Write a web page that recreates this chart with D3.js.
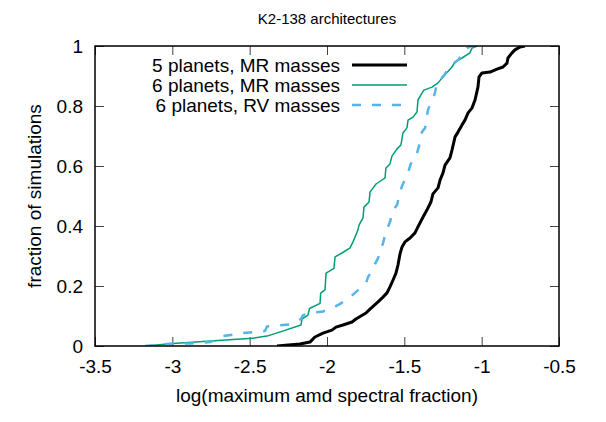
<!DOCTYPE html>
<html>
<head>
<meta charset="utf-8">
<script src="https://cdn.jsdelivr.net/npm/d3@7"></script>
<style>
  html, body { margin: 0; padding: 0; background: #fff; }
  svg { display: block; }
  text { font-family: "Liberation Sans", Arial, Helvetica, sans-serif; fill: #000; }
</style>
</head>
<body>
<svg id="chart" width="606" height="422"></svg>
<script>
// ---- data ----
const title = "K2-138 architectures";
const xLabel = "log(maximum amd spectral fraction)";
const yLabel = "fraction of simulations";
const xTicks = [-3.5, -3, -2.5, -2, -1.5, -1, -0.5];
const yTicks = [0, 0.2, 0.4, 0.6, 0.8, 1];
const seriesNames = ["5 planets, MR masses", "6 planets, MR masses", "6 planets, RV masses"];

// 5 planets, MR masses : [log fraction, cumulative fraction]
const fiveMR = [
  [-2.323,0],[-2.175,0.007],[-2.110,0.013],[-2.078,0.03],[-2.026,0.043],[-1.968,0.053],
  [-1.942,0.063],[-1.897,0.07],[-1.838,0.08],[-1.813,0.09],[-1.748,0.11],[-1.722,0.123],
  [-1.670,0.147],[-1.638,0.163],[-1.612,0.177],[-1.593,0.197],[-1.573,0.22],[-1.554,0.243],
  [-1.541,0.27],[-1.528,0.307],[-1.515,0.33],[-1.496,0.347],[-1.463,0.36],[-1.431,0.377],
  [-1.412,0.397],[-1.379,0.43],[-1.354,0.453],[-1.328,0.48],[-1.315,0.507],[-1.282,0.527],
  [-1.269,0.553],[-1.250,0.577],[-1.237,0.603],[-1.205,0.627],[-1.192,0.653],[-1.172,0.697],
  [-1.153,0.713],[-1.127,0.737],[-1.108,0.753],[-1.088,0.777],[-1.063,0.793],[-1.043,0.82],
  [-1.024,0.863],[-1.017,0.897],[-0.998,0.91],[-0.946,0.913],[-0.901,0.923],[-0.862,0.93],
  [-0.836,0.943],[-0.830,0.96],[-0.804,0.977],[-0.785,0.987],[-0.752,0.997],[-0.720,1.0]
];

// 6 planets, MR masses
const sixMR = [
  [-3.177,0],[-2.996,0.008],[-2.485,0.026],[-2.388,0.033],[-2.297,0.048],[-2.168,0.07],
  [-2.162,0.09],[-2.123,0.103],[-2.113,0.125],[-2.045,0.142],[-2.041,0.176],[-2.013,0.187],
  [-2.006,0.243],[-1.955,0.259],[-1.948,0.297],[-1.903,0.31],[-1.851,0.327],[-1.832,0.347],
  [-1.819,0.363],[-1.800,0.387],[-1.793,0.403],[-1.767,0.427],[-1.761,0.463],[-1.728,0.48],
  [-1.722,0.513],[-1.683,0.54],[-1.625,0.56],[-1.619,0.593],[-1.593,0.607],[-1.580,0.633],
  [-1.547,0.657],[-1.522,0.67],[-1.509,0.71],[-1.483,0.727],[-1.476,0.753],[-1.444,0.763],
  [-1.418,0.78],[-1.412,0.82],[-1.386,0.843],[-1.373,0.853],[-1.321,0.863],[-1.282,0.877],
  [-1.257,0.893],[-1.244,0.9],[-1.192,0.93],[-1.172,0.947],[-1.127,0.96],[-1.076,0.977],
  [-1.063,0.993],[-1.037,0.998],[-1.030,1.0]
];

// 6 planets, RV masses
const sixRV = [
  [-3.177,0],[-2.996,0.008],[-2.886,0.008],[-2.756,0.013],[-2.672,0.033],[-2.543,0.043],
  [-2.401,0.05],[-2.388,0.065],[-2.285,0.07],[-2.239,0.072],[-2.168,0.09],[-2.155,0.103],
  [-2.110,0.11],[-2.026,0.115],[-1.961,0.127],[-1.910,0.142],[-1.851,0.163],[-1.806,0.183],
  [-1.748,0.208],[-1.735,0.23],[-1.709,0.25],[-1.690,0.273],[-1.670,0.293],[-1.651,0.32],
  [-1.638,0.343],[-1.619,0.38],[-1.606,0.397],[-1.593,0.413],[-1.573,0.453],[-1.547,0.47],
  [-1.528,0.513],[-1.515,0.533],[-1.476,0.577],[-1.463,0.6],[-1.444,0.627],[-1.418,0.643],
  [-1.405,0.667],[-1.399,0.687],[-1.386,0.713],[-1.366,0.727],[-1.354,0.767],[-1.347,0.787],
  [-1.321,0.82],[-1.302,0.843],[-1.289,0.88],[-1.263,0.89],[-1.237,0.907],[-1.218,0.923],
  [-1.185,0.94],[-1.153,0.953],[-1.127,0.97],[-1.095,0.993],[-1.076,0.998],[-1.056,1.0]
];

// ---- layout ----
const W = 606, H = 422;
const m = { left: 95, right: 47, top: 46, bottom: 76 };
const svg = d3.select("#chart");
const pw = W - m.left - m.right, ph = H - m.top - m.bottom;

const x = d3.scaleLinear().domain([-3.5, -0.5]).range([m.left, m.left + pw]);
const y = d3.scaleLinear().domain([0, 1]).range([m.top + ph, m.top]);

svg.append("defs").append("clipPath").attr("id", "clip")
  .append("rect").attr("x", m.left).attr("y", m.top).attr("width", pw).attr("height", ph);

const fontSize = 19;
const tickLen = 9;

// ticks (gnuplot style: inward on all four sides, mirrored)
const axB = d3.axisBottom(x).tickValues(xTicks).tickSizeInner(-tickLen).tickSizeOuter(0)
  .tickPadding(14).tickFormat(d => d3.format("")(d).replace("−", "-"));
const axT = d3.axisTop(x).tickValues(xTicks).tickSizeInner(-tickLen).tickSizeOuter(0).tickFormat("");
const axL = d3.axisLeft(y).tickValues(yTicks).tickSizeInner(-tickLen).tickSizeOuter(0)
  .tickPadding(12).tickFormat(d => d3.format("")(d));
const axR = d3.axisRight(y).tickValues(yTicks).tickSizeInner(-tickLen).tickSizeOuter(0).tickFormat("");

function styleAxis(g) {
  g.select(".domain").remove();
  g.selectAll(".tick line").attr("stroke", "#444").attr("stroke-width", 1);
  g.selectAll(".tick text").attr("font-size", fontSize)
    .attr("font-family", '"Liberation Sans", Arial, sans-serif').attr("fill", "#000");
}
svg.append("g").attr("transform", `translate(0,${m.top + ph})`).call(axB).call(styleAxis);
svg.append("g").attr("transform", `translate(0,${m.top})`).call(axT).call(styleAxis);
svg.append("g").attr("transform", `translate(${m.left},0)`).call(axL).call(styleAxis);
svg.append("g").attr("transform", `translate(${m.left + pw},0)`).call(axR).call(styleAxis);

// curves
const line = d3.line().x(d => x(d[0])).y(d => y(d[1]));
const plot = svg.append("g").attr("clip-path", "url(#clip)");
const styles = [
  { data: fiveMR, color: "#000000", width: 3, dash: null },
  { data: sixMR, color: "#009e73", width: 1.5, dash: null },
  { data: sixRV, color: "#56b4e9", width: 2.5, dash: "9,11" }
];
styles.forEach(s => {
  plot.append("path").datum(s.data).attr("d", line)
    .attr("fill", "none").attr("stroke", s.color).attr("stroke-width", s.width)
    .attr("stroke-linejoin", "round")
    .attr("stroke-dasharray", s.dash);
});

// border
svg.append("rect").attr("x", m.left).attr("y", m.top).attr("width", pw).attr("height", ph)
  .attr("fill", "none").attr("stroke", "#000").attr("stroke-width", 1.5);

// legend
const leg = svg.append("g");
seriesNames.forEach((name, i) => {
  const cy = 65 + i * 20;
  leg.append("text").attr("x", 340).attr("y", cy + 6.5).attr("text-anchor", "end")
    .attr("font-size", fontSize).text(name);
  leg.append("line").attr("x1", 352).attr("x2", 407).attr("y1", cy).attr("y2", cy)
    .attr("stroke", styles[i].color).attr("stroke-width", styles[i].width)
    .attr("stroke-dasharray", styles[i].dash);
});

// titles
svg.append("text").attr("x", m.left + pw / 2).attr("y", 24).attr("text-anchor", "middle")
  .attr("font-size", 15).text(title);
svg.append("text").attr("x", m.left + pw / 2).attr("y", 402).attr("text-anchor", "middle")
  .attr("font-size", fontSize).text(xLabel);
svg.append("text").attr("transform", `translate(41,${m.top + ph / 2}) rotate(-90)`)
  .attr("text-anchor", "middle").attr("font-size", fontSize).text(yLabel);
</script>
</body>
</html>
